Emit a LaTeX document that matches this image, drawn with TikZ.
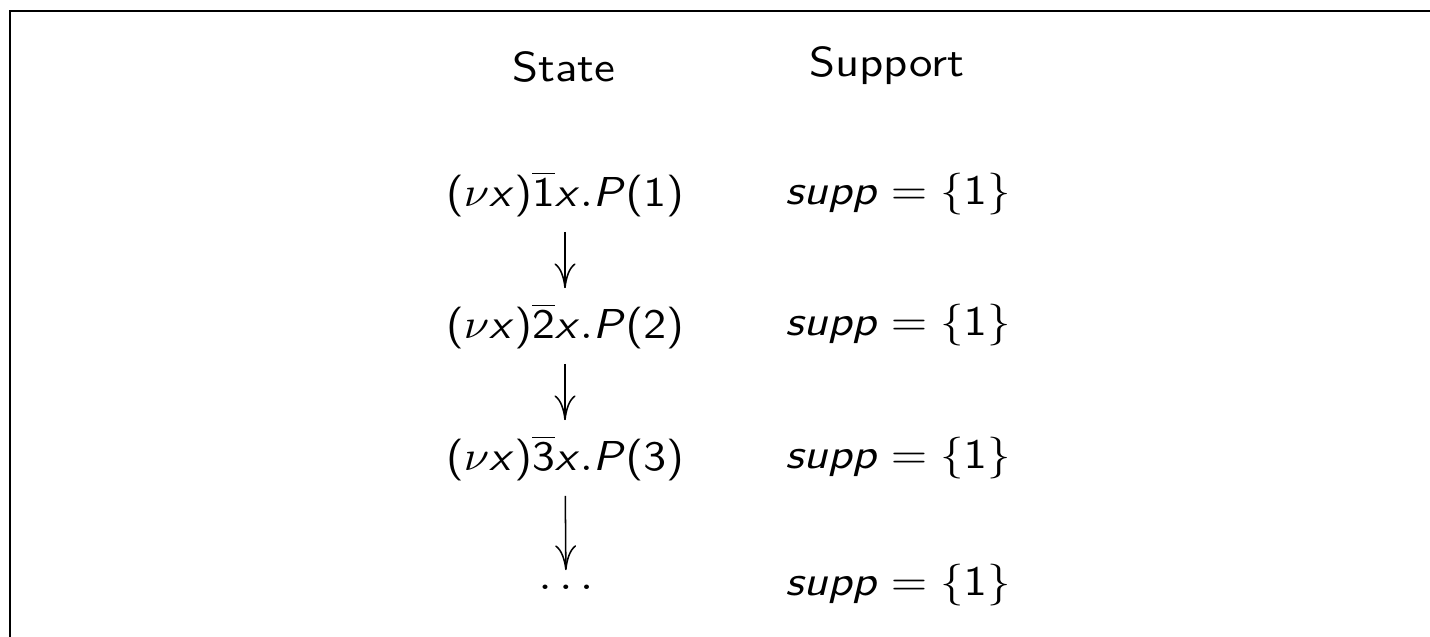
\documentclass[tikz,border=0pt,11pt]{standalone}
\usepackage{amsmath,amssymb}
\usepackage{graphicx}
\usepackage{tikz}
\usetikzlibrary{arrows.meta,calc}

% sans-serif math letters, digits and parentheses
\DeclareSymbolFont{sfops}{OT1}{cmss}{m}{n}
\DeclareSymbolFont{sfits}{OT1}{cmss}{m}{it}
\DeclareMathSymbol{s}{\mathalpha}{sfits}{`s}
\DeclareMathSymbol{u}{\mathalpha}{sfits}{`u}
\DeclareMathSymbol{p}{\mathalpha}{sfits}{`p}
\DeclareMathSymbol{x}{\mathalpha}{sfits}{`x}
\DeclareMathSymbol{P}{\mathalpha}{sfits}{`P}
\DeclareMathSymbol{1}{\mathalpha}{sfops}{`1}
\DeclareMathSymbol{2}{\mathalpha}{sfops}{`2}
\DeclareMathSymbol{3}{\mathalpha}{sfops}{`3}
\DeclareMathDelimiter{(}{\mathopen}{sfops}{`(}{largesymbols}{"00}
\DeclareMathDelimiter{)}{\mathclose}{sfops}{`)}{largesymbols}{"01}

% text comes out a little wide in the slide
\newcommand{\wide}[2][1.12]{\scalebox{#1}[1]{#2}}

\begin{document}
\begin{tikzpicture}[
  x=0.2619pt,y=-0.2619pt,
  every node/.style={font=\sffamily},
  frame/.style={line width=0.6pt},
  step arrow/.style={-{Computer Modern Rightarrow[length=6.5pt,width=5.5pt]}}
]

\useasboundingbox (0,0) rectangle (1430,636);
\clip (0,0) rectangle (1430,636);

% slide frame, cut on the right and at the bottom
\draw[frame] (10,11) rectangle (1460,680);

% ------------------------------------------------------------
% Column heads
% ------------------------------------------------------------
\node (hstate) at (564,67) {\wide{State}};
\node (hsupp)  at (887,66) {\wide{Support}};

% ------------------------------------------------------------
% States
% ------------------------------------------------------------
\node (s1) at (565,194) {\wide[1.09]{$(\nu x)\overline{1}x.P(1)$}};
\node (s2) at (565,326) {\wide[1.09]{$(\nu x)\overline{2}x.P(2)$}};
\node (s3) at (565,458) {\wide[1.09]{$(\nu x)\overline{3}x.P(3)$}};
\node (s4) at (566,587) {\wide{$\ldots$}};

\draw[step arrow] (s1) -- (s2);
\draw[step arrow] (s2) -- (s3);
\draw[step arrow] (s3) -- (s4);

% ------------------------------------------------------------
% Supports
% ------------------------------------------------------------
\node (p1) at (898,194) {\wide{$supp = \{1\}$}};
\node (p2) at (898,325) {\wide{$supp = \{1\}$}};
\node (p3) at (898,458) {\wide{$supp = \{1\}$}};
\node (p4) at (898,585) {\wide{$supp = \{1\}$}};

\end{tikzpicture}
\end{document}
